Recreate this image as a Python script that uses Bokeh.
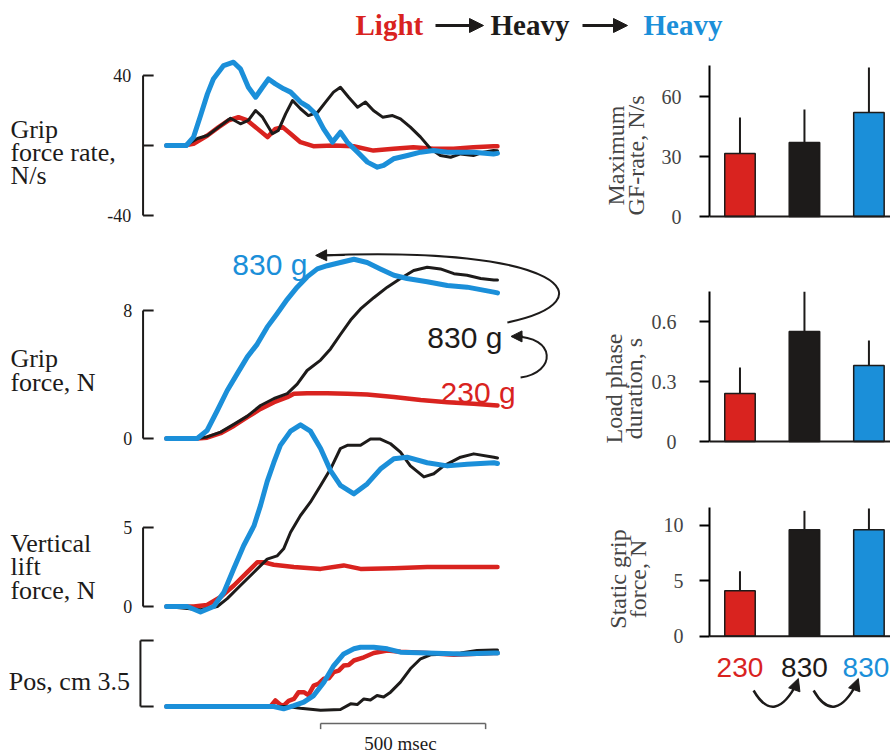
from bokeh.plotting import figure
from bokeh.models import Range1d, FixedTicker, Span, Arrow, NormalHead
from bokeh.layouts import column, row
from bokeh.embed import file_html
from bokeh.resources import INLINE
from bokeh.core.properties import value

RED = "#d9231f"
BLACK = "#1d1b1a"
BLUE = "#1b8fd9"
SERIF = "Liberation Serif"
SANS = "Liberation Sans"

# ---------------- data: time courses (ms) ----------------
# Grip force rate, N/s
gfr_t_red = [0, 52, 82, 124, 158, 188, 218, 245, 276, 306, 330, 352, 376, 406, 445, 506, 567, 627, 688, 748, 809, 870, 930, 991, 1003]
gfr_red = [0, 0, 1, 5.7, 10.5, 14.3, 16.2, 14.3, 9.5, 4.8, 9.5, 10.5, 6.7, 1.9, -0.4, 0, -0.4, -2.9, -1.9, -1, -1.9, -1.9, -1, -0.4, -0.4]
gfr_t_black = [0, 58, 94, 124, 158, 194, 224, 248, 270, 291, 321, 339, 361, 382, 406, 430, 458, 482, 506, 527, 552, 579, 603, 627, 655, 685, 709, 739, 770, 800, 830, 861, 891, 930, 961, 991, 1003]
gfr_black = [0, 0, 4, 5.7, 10.5, 15.6, 12.4, 14.3, 20, 16.2, 6.7, 8.6, 18.1, 25.7, 21, 17.1, 19, 24.8, 30.5, 33.3, 27.6, 21.9, 24.8, 20, 16.2, 17.1, 15.2, 10.5, 4.8, -1.9, -5.7, -6.7, -4.8, -5.7, -3.8, -2.9, -3]
gfr_t_blue = [0, 60, 82, 103, 124, 142, 173, 203, 224, 248, 270, 291, 309, 330, 355, 376, 406, 430, 452, 476, 503, 527, 548, 579, 609, 639, 658, 688, 730, 770, 809, 852, 891, 930, 991, 1003]
gfr_blue = [0, 0, 4.8, 17, 29.5, 38, 45.7, 47.6, 43.8, 33.3, 27.6, 33.3, 38, 35.2, 32.4, 30.5, 24.8, 22, 18, 9.5, 1.9, 7.6, 1.9, -3.8, -9.5, -12.4, -11.4, -7.6, -5.7, -3.8, -2.9, -3.8, -3.8, -3.8, -4.8, -4.5]

# Grip force, N
gf_t_red = [0, 93, 123, 164, 205, 245, 285, 326, 366, 386, 426, 487, 548, 608, 689, 770, 851, 931, 992, 1003]
gf_red = [0, 0, 0.05, 0.33, 0.8, 1.33, 1.85, 2.27, 2.58, 2.8, 2.83, 2.83, 2.8, 2.75, 2.6, 2.4, 2.27, 2.17, 2.08, 2.06]
gf_t_black = [0, 93, 123, 164, 205, 245, 285, 326, 366, 396, 426, 467, 497, 527, 558, 588, 628, 669, 709, 749, 790, 830, 871, 911, 952, 992, 1003]
gf_black = [0, 0, 0.1, 0.4, 0.9, 1.4, 2.06, 2.5, 2.8, 3.4, 4.25, 4.9, 5.6, 6.5, 7.4, 8.1, 8.8, 9.46, 10.0, 10.5, 10.7, 10.6, 10.3, 10.2, 10.0, 9.9, 9.9]
gf_t_blue = [0, 93, 123, 154, 184, 214, 245, 275, 305, 335, 366, 396, 426, 457, 487, 527, 568, 608, 648, 689, 729, 790, 851, 911, 992, 1003]
gf_blue = [0, 0, 0.5, 1.75, 3.0, 4.04, 5.1, 5.9, 6.96, 7.8, 8.7, 9.46, 10.1, 10.6, 10.8, 11.0, 11.2, 11.0, 10.6, 10.2, 10.0, 9.8, 9.56, 9.46, 9.15, 9.1]

# Vertical lift force, N
vlf_t_red = [0, 83, 123, 164, 204, 245, 275, 295, 325, 386, 467, 537, 588, 689, 790, 891, 992, 1003]
vlf_red = [0, 0, 0.1, 0.6, 1.33, 2.17, 2.8, 2.8, 2.64, 2.5, 2.38, 2.6, 2.38, 2.42, 2.5, 2.5, 2.5, 2.5]
vlf_t_black = [0, 103, 154, 184, 224, 265, 305, 335, 355, 376, 406, 436, 467, 497, 527, 548, 588, 618, 648, 679, 709, 739, 780, 810, 840, 891, 931, 992, 1003]
vlf_black = [0, -0.2, 0, 0.5, 1.33, 2.17, 3.0, 3.2, 3.65, 4.7, 5.76, 6.6, 7.66, 8.7, 10.0, 10.2, 10.2, 10.6, 10.6, 10.3, 9.77, 8.9, 8.2, 8.4, 8.9, 9.45, 9.66, 9.45, 9.4]
vlf_t_blue = [0, 63, 103, 143, 174, 204, 234, 265, 285, 305, 325, 345, 376, 406, 436, 467, 497, 527, 568, 608, 648, 689, 729, 790, 851, 911, 992, 1003]
vlf_blue = [0, 0, -0.35, 0, 0.9, 2.4, 3.86, 5.1, 6.4, 7.9, 9.1, 10.2, 11.1, 11.5, 11.1, 10.0, 8.6, 7.66, 7.13, 7.76, 8.7, 9.35, 9.45, 9.1, 8.9, 9.0, 9.1, 9.05]

# Position, cm
pos_t_red = [0, 315, 330, 345, 355, 370, 386, 400, 416, 430, 446, 460, 477, 492, 507, 522, 537, 552, 568, 598, 628, 669, 709, 790, 871, 992, 1003]
pos_red = [0, 0, 0.32, 0.1, 0.05, 0.3, 0.4, 0.75, 0.76, 0.6, 1.11, 1.2, 1.47, 1.5, 1.82, 1.9, 2.17, 2.2, 2.44, 2.61, 2.84, 2.97, 2.9, 2.84, 2.75, 2.84, 2.84]
pos_t_black = [0, 366, 406, 467, 527, 558, 578, 598, 618, 638, 658, 679, 709, 739, 770, 800, 840, 891, 941, 992, 1003]
pos_black = [0, 0, -0.09, -0.2, -0.16, 0.14, 0.1, 0.4, 0.35, 0.58, 0.5, 0.76, 1.29, 2.0, 2.53, 2.74, 2.77, 2.84, 2.97, 3.0, 3.0]
pos_t_blue = [0, 325, 355, 386, 416, 446, 477, 507, 537, 568, 588, 628, 669, 709, 790, 891, 992, 1003]
pos_blue = [0, 0, -0.12, 0.05, 0.23, 0.58, 1.29, 2.17, 2.79, 3.06, 3.14, 3.14, 3.06, 2.88, 2.84, 2.79, 2.84, 2.84]

# bracket ticks
gfr_ticks = [-40, 0, 40]
gfr_tick_labels = {40: "40", -40: "-40"}
gf_ticks = [0, 8]
vlf_ticks = [0, 5]
pos_ticks = [0, 3.5]
scale_bar_ms = 500
scale_bar_start = 467

# ---------------- data: bar charts ----------------
bar_labels = ["230", "830", "830"]
bar_colors = [RED, BLACK, BLUE]
bar_pos = [1, 2, 3]
gfrate_mean = [31.5, 37, 52]
gfrate_err = [18, 16.5, 22.5]
loadphase_mean = [0.24, 0.55, 0.38]
loadphase_err = [0.13, 0.2, 0.125]
static_mean = [4.1, 9.6, 9.6]
static_err = [1.75, 1.7, 1.9]

W, H = 890, 755
TOP_H = 58

# ---------------- title ----------------
title = figure(width=W, height=TOP_H, x_range=Range1d(0, W), y_range=Range1d(TOP_H, 0),
               x_axis_type=None, y_axis_type=None, toolbar_location=None,
               output_backend="svg", min_border=0, outline_line_color=None)
title.text(x=[355, 490, 643], y=[24, 24, 24], text=["Light", "Heavy", "Heavy"],
           text_color=[RED, BLACK, BLUE], text_font=value(SERIF), text_font_style="bold",
           text_font_size="29px", text_baseline="middle", text_align="left")
for xs, xe in [(435, 483), (582, 627)]:
    title.add_layout(Arrow(x_start=xs, y_start=25, x_end=xe, y_end=25, line_width=3,
                           line_color=BLACK,
                           end=NormalHead(size=14, fill_color=BLACK, line_color=BLACK)))

# ---------------- left traces ----------------
PX_PER_MS = 0.33
LW, LH = 598, H - TOP_H
T_LEFT = -166 / PX_PER_MS


def prange(zero_px, px_per_unit):
    return Range1d(start=-(LH - zero_px) / px_per_unit, end=zero_px / px_per_unit)


left = figure(width=LW, height=LH, x_range=Range1d(T_LEFT, T_LEFT + LW / PX_PER_MS),
              y_range=prange(87, 1.75), x_axis_type=None, y_axis_type=None,
              toolbar_location=None, output_backend="svg", min_border=0,
              outline_line_color=None)
left.extra_y_ranges = {"gf": prange(380, 16.0), "vlf": prange(548, 15.8),
                       "pos": prange(648, 66 / 3.5)}

AX_T = -71
TICK_T = -39
LAB_T = -104


def bracket(ticks, rname, ax_t=AX_T):
    kw = {} if rname is None else {"y_range_name": rname}
    left.segment(x0=[ax_t], y0=[min(ticks)], x1=[ax_t], y1=[max(ticks)],
                 line_width=2, line_color=BLACK, **kw)
    left.segment(x0=[ax_t] * len(ticks), y0=ticks, x1=[TICK_T] * len(ticks), y1=ticks,
                 line_width=2, line_color=BLACK, **kw)


bracket(gfr_ticks, None)
bracket(gf_ticks, "gf")
bracket(vlf_ticks, "vlf")
bracket(pos_ticks, "pos", ax_t=-79)

tick_font = dict(text_font=value(SERIF), text_font_size="18px", text_align="right",
                 text_baseline="middle", text_color=BLACK)
left.text(x=[LAB_T - 3] * 2, y=list(gfr_tick_labels.keys()),
          text=list(gfr_tick_labels.values()), **tick_font)
left.text(x=[LAB_T] * 2, y=gf_ticks, text=[str(v) for v in gf_ticks], y_range_name="gf", **tick_font)
left.text(x=[LAB_T] * 2, y=vlf_ticks, text=[str(v) for v in vlf_ticks], y_range_name="vlf", **tick_font)

for rname, series in [
    (None, [(gfr_t_red, gfr_red, RED, 4.5), (gfr_t_black, gfr_black, BLACK, 3), (gfr_t_blue, gfr_blue, BLUE, 5)]),
    ("gf", [(gf_t_red, gf_red, RED, 4.5), (gf_t_black, gf_black, BLACK, 3), (gf_t_blue, gf_blue, BLUE, 5)]),
    ("vlf", [(vlf_t_red, vlf_red, RED, 4.5), (vlf_t_black, vlf_black, BLACK, 3), (vlf_t_blue, vlf_blue, BLUE, 5)]),
    ("pos", [(pos_t_red, pos_red, RED, 4.5), (pos_t_black, pos_black, BLACK, 3), (pos_t_blue, pos_blue, BLUE, 5)]),
]:
    for t, v, c, w in series:
        kw = {} if rname is None else {"y_range_name": rname}
        left.line(t, v, line_color=c, line_width=w, line_join="round", line_cap="round", **kw)

lab_font = dict(text_font=value(SERIF), text_font_size="26px", text_align="left",
                text_baseline="middle", text_color=BLACK, text_line_height=0.8)
left.text(x=[-473], y=[-4], text=["Grip\nforce rate,\nN/s"], **lab_font)
left.text(x=[-473], y=[4.25], text=["Grip\nforce, N"], y_range_name="gf", **lab_font)
left.text(x=[-473], y=[2.5], text=["Vertical\nlift\nforce, N"], y_range_name="vlf", **lab_font)
left.text(x=[-478], y=[1.33], text=["Pos, cm 3.5"], y_range_name="pos", **lab_font)

# time scale bar
sb0, sb1 = scale_bar_start, scale_bar_start + scale_bar_ms
left.segment(x0=[sb0, sb0, sb1], y0=[-0.9, -0.9, -0.9], x1=[sb1, sb0, sb1], y1=[-0.9, -1.2, -1.2],
             y_range_name="pos", line_width=1.5, line_color="#666666")
left.text(x=[(sb0 + sb1) / 2 - 8], y=[-1.96], text=[f"{scale_bar_ms} msec"], y_range_name="pos",
          text_font=value(SERIF), text_font_size="19px", text_align="center",
          text_baseline="alphabetic", text_color=BLACK)

# weight labels and arrows in grip force panel
gl_font = dict(text_font=value(SANS), text_font_size="30px", text_align="right",
               text_baseline="alphabetic")
left.text(x=[427], y=[10.9], text=["830 g"], text_color=BLUE, y_range_name="gf", **gl_font)
left.text(x=[1018], y=[6.33], text=["830 g"], text_color=BLACK, y_range_name="gf", **gl_font)
left.text(x=[1058], y=[2.875], text=["230 g"], text_color=RED, y_range_name="gf", **gl_font)

left.bezier(x0=[1033, 1073], y0=[7.25, 3.81], x1=[462, 1052], y1=[11.44, 6.38],
            cx0=[1345, 1182], cy0=[8.6, 4.13], cx1=[1209, 1182], cy1=[12.1, 6.38],
            y_range_name="gf", line_width=2, line_color=BLACK)
for xs, ys, xe, ye in [(540, 11.47, 452, 11.44), (1080, 6.38, 1044, 6.38)]:
    left.add_layout(Arrow(x_start=xs, y_start=ys, x_end=xe, y_end=ye, y_range_name="gf",
                          line_width=2, line_color=BLACK,
                          end=NormalHead(size=11, fill_color=BLACK, line_color=BLACK)))

# ---------------- right bar charts ----------------
BW = W - LW
PITCH = 68.75
X0 = 1 - 32.5 / PITCH
bar_xr = Range1d(X0, X0 + (BW - 99) / PITCH)


def bar_fig(means, errs, y0, top, ticks, overrides, ylabel, standoff, lab_standoff,
            b_top, b_bottom, height):
    p = figure(width=BW, height=height, x_range=bar_xr, y_range=Range1d(y0, top),
               x_axis_type=None, toolbar_location=None, output_backend="svg",
               min_border_left=99, min_border_right=0, min_border_top=b_top,
               min_border_bottom=b_bottom, outline_line_color=None)
    p.ygrid.visible = False
    ax = p.yaxis[0]
    ax.ticker = FixedTicker(ticks=ticks)
    ax.bounds = (0, top)
    ax.major_tick_in = 0
    ax.major_tick_out = 10
    ax.major_tick_line_width = 2
    ax.minor_tick_line_color = None
    ax.axis_line_width = 2
    ax.major_label_text_font = SERIF
    ax.major_label_text_font_size = "20px"
    ax.major_label_standoff = standoff
    if overrides:
        ax.major_label_overrides = overrides
    ax.axis_label = ylabel
    ax.axis_label_text_font = SERIF
    ax.axis_label_text_font_style = "normal"
    ax.axis_label_text_font_size = "24px"
    ax.axis_label_text_line_height = 0.74
    ax.axis_label_standoff = lab_standoff
    p.vbar(x=bar_pos, top=means, width=32.5 / PITCH, fill_color=bar_colors,
           line_color=BLACK, line_width=1.5)
    p.segment(x0=bar_pos, y0=means, x1=bar_pos, y1=[m + e for m, e in zip(means, errs)],
              line_width=2, line_color=BLACK)
    p.add_layout(Span(location=0, dimension="width", line_width=2, line_color=BLACK))
    return p


bar1 = bar_fig(gfrate_mean, gfrate_err, -14.5, 75.5, [0, 30, 60], None,
               "Maximum\nGF-rate, N/s", 18, 10, 7, 1, 188)
bar2 = bar_fig(loadphase_mean, loadphase_err, -0.22, 0.75, [0, 0.3, 0.6],
               {0: "0", 0.3: "0.3", 0.6: "0.6"}, "Load phase\nduration, s", 23, 2, 45, 2, 241)
bar3 = bar_fig(static_mean, static_err, -1.28, 11.6, [0, 5, 10], None,
               "Static grip\nforce, N", 16, 10, 20, 0, 163)

LAB_H = H - TOP_H - 188 - 241 - 163
lab = figure(width=BW, height=LAB_H, x_range=bar_xr, y_range=Range1d(H, H - LAB_H),
             x_axis_type=None, y_axis_type=None, toolbar_location=None,
             output_backend="svg", min_border_left=99, min_border_right=0,
             min_border_top=0, min_border_bottom=0, outline_line_color=None)
lab.text(x=bar_pos, y=[667, 667, 667], text=bar_labels, text_color=bar_colors,
         text_font=value(SANS), text_font_size="28px", text_align="center",
         text_baseline="middle", x_offset=[0, 0, -3])
lab.quadratic(x0=[1.211, 2.142], y0=[690, 690], x1=[1.89, 2.82], y1=[682, 682],
              cx=[1.535, 2.465], cy=[726, 726], line_width=2.5, line_color=BLACK)
for xs in [1.855, 2.785]:
    lab.add_layout(Arrow(x_start=xs, y_start=687, x_end=xs + 0.05, y_end=678,
                         line_width=2.5, line_color=BLACK,
                         end=NormalHead(size=12, fill_color=BLACK, line_color=BLACK)))

layout = column(title, row(left, column(bar1, bar2, bar3, lab)))

open("out.html", "w").write(file_html(layout, INLINE))
